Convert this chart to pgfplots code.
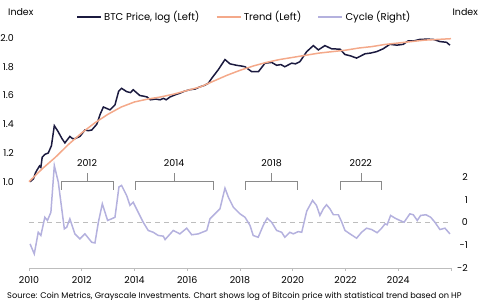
\documentclass[border=0pt]{standalone}
\usepackage{fontspec}
\setmainfont{Poppins}
\usepackage{pgfplots}
\pgfplotsset{compat=1.18}
\definecolor{btc}{HTML}{1B1A3F}
\definecolor{trend}{HTML}{F4A98A}
\definecolor{cyc}{HTML}{B4B1DE}
\definecolor{axgrey}{HTML}{BDBDBD}
\definecolor{brk}{HTML}{8A8A8A}
\begin{document}
\begin{tikzpicture}
\path[use as bounding box] (0,0) rectangle (482bp,300bp);
\begin{axis}[
  at={(29bp,32bp)}, anchor=south west,
  scale only axis, width=422bp, height=244.4bp,
  xmin=2010, xmax=2026, ymin=0.4, ymax=2.1,
  axis lines*=left,
  y axis line style={draw=none},
  x axis line style={axgrey, line width=0.8pt},
  xtick={2010,2012,...,2026},
  xticklabels={2010,2012,2014,2016,2018,2020,2022,2024,},
  xtick style={axgrey, line width=0.6pt},
  tick align=outside, major tick length=3bp,
  ytick={1.0,1.2,...,2.01},
  yticklabels={1.0,1.2,1.4,1.6,1.8,2.0},
  ytick style={draw=none},
  /pgf/number format/assume math mode=true,
  tick label style={font=\fontsize{9.5}{11}\selectfont, text=black},
  yticklabel style={inner sep=0pt, xshift=-12bp},
  xticklabel style={yshift=-2bp},
  clip=false,
]
\addplot[btc, line width=1.5pt] coordinates {
(2010.04,1.00) (2010.17,1.02) (2010.24,1.06) (2010.30,1.08) (2010.40,1.11) (2010.45,1.10) (2010.50,1.17)
(2010.60,1.19) (2010.73,1.20) (2010.85,1.25) (2010.96,1.39) (2011.10,1.35)
(2011.25,1.30) (2011.36,1.27) (2011.55,1.315) (2011.65,1.30) (2011.74,1.30) (2011.93,1.315)
(2012.12,1.36) (2012.25,1.355) (2012.38,1.36) (2012.57,1.40) (2012.70,1.47) (2012.82,1.52)
(2013.07,1.50) (2013.26,1.535) (2013.40,1.63) (2013.51,1.65) (2013.70,1.627)
(2013.85,1.62) (2013.95,1.64) (2014.20,1.60) (2014.35,1.595) (2014.47,1.59) (2014.60,1.57)
(2014.80,1.575) (2014.97,1.57) (2015.10,1.58) (2015.20,1.57) (2015.35,1.59) (2015.55,1.605) (2015.72,1.616)
(2015.90,1.63) (2016.10,1.64) (2016.30,1.645) (2016.48,1.66) (2016.65,1.67) (2016.80,1.685) (2016.93,1.72)
(2017.18,1.78) (2017.43,1.85) (2017.62,1.82) (2017.87,1.81) (2018.05,1.805) (2018.19,1.80)
(2018.44,1.766) (2018.70,1.766) (2018.95,1.825) (2019.20,1.83) (2019.39,1.81)
(2019.55,1.815) (2019.70,1.80) (2019.96,1.825) (2020.10,1.82) (2020.27,1.835) (2020.53,1.905)
(2020.78,1.947) (2020.97,1.917) (2021.22,1.947) (2021.47,1.925) (2021.79,1.922)
(2021.98,1.885) (2022.20,1.875) (2022.42,1.86) (2022.74,1.89) (2022.95,1.895) (2023.18,1.905)
(2023.43,1.925) (2023.68,1.956) (2023.95,1.95) (2024.19,1.956) (2024.38,1.98)
(2024.60,1.98) (2024.82,1.99) (2025.10,1.992) (2025.33,1.99) (2025.58,1.975) (2025.83,1.97) (2025.96,1.95)
};
\addplot[trend, line width=1.5pt] coordinates {
(2010.00,1.00) (2010.50,1.09) (2011.00,1.17) (2011.50,1.26) (2012.00,1.34)
(2012.50,1.41) (2013.00,1.47) (2013.50,1.52) (2014.00,1.555) (2014.50,1.575)
(2015.00,1.59) (2015.50,1.61) (2016.00,1.635) (2016.50,1.66) (2017.00,1.70)
(2017.50,1.74) (2018.00,1.775) (2018.50,1.805) (2019.00,1.83) (2019.50,1.85)
(2020.00,1.865) (2020.50,1.88) (2021.00,1.895) (2021.50,1.905) (2022.00,1.915)
(2022.50,1.93) (2023.00,1.94) (2023.50,1.955) (2024.00,1.965) (2024.50,1.975)
(2025.00,1.985) (2025.50,1.99) (2026.00,1.995)
};
% brackets
\foreach \a/\b/\c/\lab in {2011.21/2013.18/2012.2/2012, 2014.02/2016.98/2015.5/2014, 2018.19/2020.16/2019.2/2018, 2021.79/2023.35/2022.58/2022}{
  \edef\tmp{\noexpand\draw[brk, line width=0.6pt] (axis cs:\a,0.944) -- (axis cs:\a,1.0) -- (axis cs:\b,1.0) -- (axis cs:\b,0.944);
  \noexpand\draw[brk, line width=0.6pt] (axis cs:\c,1.0) -- (axis cs:\c,1.0625);
  \noexpand\node[font=\noexpand\fontsize{9.5}{11}\noexpand\selectfont] at (axis cs:\c,1.13) {\lab};}
  \tmp
}
\end{axis}
\begin{axis}[
  at={(29bp,32bp)}, anchor=south west,
  scale only axis, width=422bp, height=244.4bp,
  xmin=2010, xmax=2026, ymin=-2, ymax=8.74,
  axis y line*=right, axis x line=none,
  y axis line style={draw=none},
  ytick={-2,-1,0,1,2},
  ytick style={draw=none},
  /pgf/number format/assume math mode=true,
  tick label style={font=\fontsize{9.5}{11}\selectfont, text=black},
  yticklabel style={anchor=east, inner sep=0pt, xshift=17bp},
  legend style={at={(0.51,1.027)}, anchor=center, draw=none, fill=none,
    legend columns=3, font=\fontsize{10}{12}\selectfont,
    /tikz/every even column/.append style={column sep=14bp}},
  legend image code/.code={\draw[#1, line width=2.2pt] (0cm,0cm) -- (0.85cm,0cm);},
  clip=false,
]
\addlegendimage{btc}
\addlegendentry{BTC Price, log (Left)}
\addlegendimage{trend}
\addlegendentry{Trend (Left)}
\addplot[axgrey, dashed, line width=0.8pt, dash pattern=on 5bp off 4bp, forget plot] coordinates {(2010,0) (2026,0)};
\addplot[cyc, line width=1.5pt] coordinates {
(2010.04,-0.94) (2010.20,-1.38) (2010.35,-0.43) (2010.45,-0.57) (2010.60,0.23)
(2010.70,0.09) (2010.83,0.45) (2010.96,2.50) (2011.11,1.78) (2011.34,-0.28)
(2011.43,-0.21) (2011.55,0.16) (2011.74,-0.50) (2011.93,-0.72) (2012.12,-0.50)
(2012.38,-0.87) (2012.50,-0.90) (2012.63,0.01) (2012.78,0.82) (2012.98,0.09)
(2013.13,0.16) (2013.26,0.23) (2013.41,1.56) (2013.51,1.63) (2013.70,1.19)
(2013.83,0.75) (2013.95,0.89) (2014.20,0.31) (2014.33,0.01) (2014.52,-0.35)
(2014.71,-0.43) (2014.90,-0.57) (2015.09,-0.60) (2015.16,-0.75) (2015.47,-0.35)
(2015.72,-0.50) (2015.98,-0.25) (2016.17,-0.54) (2016.42,-0.50) (2016.74,-0.35)
(2016.86,0.16) (2017.05,0.38) (2017.24,0.60) (2017.43,1.51) (2017.56,1.11)
(2017.75,0.67) (2018.00,0.38) (2018.19,0.23) (2018.38,-0.13) (2018.50,-0.57)
(2018.69,-0.65) (2018.88,-0.13) (2019.03,0.19) (2019.20,0.01) (2019.39,-0.35)
(2019.58,-0.43) (2019.70,-0.65) (2019.89,-0.43) (2020.02,-0.50) (2020.21,-0.40)
(2020.34,-0.43) (2020.53,0.50) (2020.75,0.97) (2020.90,0.75) (2021.03,0.31)
(2021.16,0.60) (2021.28,0.78) (2021.41,0.60) (2021.54,0.34) (2021.73,0.34)
(2021.86,0.01) (2021.98,-0.35) (2022.17,-0.50) (2022.42,-0.69) (2022.61,-0.43)
(2022.80,-0.25) (2022.99,-0.31) (2023.20,-0.45) (2023.37,-0.25) (2023.50,-0.06)
(2023.58,-0.10) (2023.71,0.31) (2023.88,0.19) (2024.06,0.09) (2024.22,0.01)
(2024.44,0.38) (2024.57,0.34) (2024.72,0.09) (2024.85,0.31) (2025.05,0.34)
(2025.23,0.23) (2025.39,0.01) (2025.58,-0.31) (2025.77,-0.25) (2025.96,-0.50)
};
\addlegendentry{Cycle (Right)}
\end{axis}
\node[anchor=west, font=\fontsize{9.5}{11}\selectfont, inner sep=0pt] at (8bp,288bp) {Index};
\node[anchor=east, font=\fontsize{9.5}{11}\selectfont, inner sep=0pt] at (478bp,288bp) {Index};
\node[anchor=west, font=\fontsize{8.25}{10}\selectfont, inner sep=0pt] at (7bp,4bp) {Source: Coin Metrics, Grayscale Investments. Chart shows log of Bitcoin price with statistical trend based on HP};
\end{tikzpicture}
\end{document}
